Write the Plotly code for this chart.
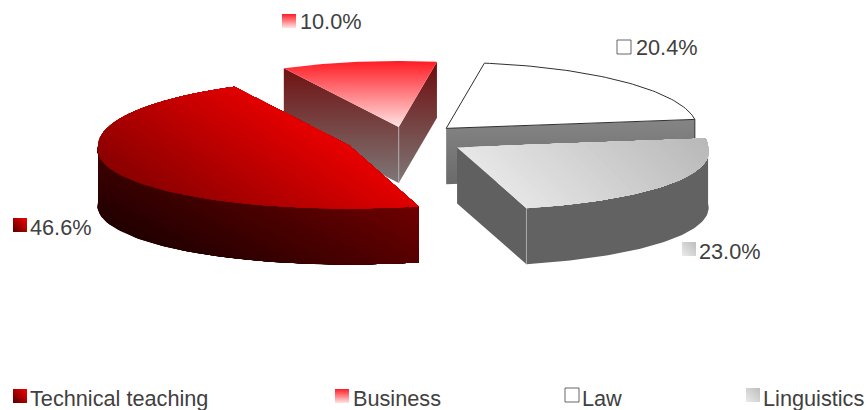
import math
import plotly.graph_objects as go

# Chart data
categories = ["Technical teaching", "Business", "Law", "Linguistics"]
shares = [46.6, 10.0, 20.4, 23.0]

# Label placement per category: (swatch left, swatch top, text left, text centre y)
value_label_pos = {
    "Technical teaching": (13, 218, 30, 227),
    "Business": (282, 14, 300, 21),
    "Law": (617, 40, 636, 47),
    "Linguistics": (682, 242, 699, 251),
}
legend_pos = {
    "Technical teaching": (13, 389, 30),
    "Business": (335, 389, 353),
    "Law": (565, 388, 582),
    "Linguistics": (746, 388, 763),
}

# Projected pie geometry, in pixels
CX, CY = 407, 140
RX = 251
RY_FAR, RY_NEAR = 66, 63
PERSPECTIVE = 0.07
DEPTH = 56
EXPLODE = 0.23
FIRST_ANGLE = 165  # clockwise from twelve o'clock
# Fine adjustment of each exploded slice
NUDGE = {
    "Technical teaching": (-4, 0),
    "Business": (1, 2),
    "Law": (-2, -1),
    "Linguistics": (2, -1),
}

TEXT = "#404040"
FONT = "Liberation Sans, Arial, sans-serif"


def hex_rgb(c):
    return tuple(int(c[i:i + 2], 16) for i in (1, 3, 5))


def mix(a, b, f):
    ra, rb = hex_rgb(a), hex_rgb(b)
    f = min(max(f, 0), 1)
    return "rgb(%d,%d,%d)" % tuple(round(p + (q - p) * f) for p, q in zip(ra, rb))


def clip(poly, d, t0):
    """Keep the part of a polygon where dot(p, d) >= t0."""
    out = []
    for i, p in enumerate(poly):
        q = poly[(i + 1) % len(poly)]
        tp = p[0] * d[0] + p[1] * d[1] - t0
        tq = q[0] * d[0] + q[1] * d[1] - t0
        if tp >= 0:
            out.append(p)
        if (tp >= 0) != (tq >= 0):
            f = tp / (tp - tq)
            out.append((p[0] + (q[0] - p[0]) * f, p[1] + (q[1] - p[1]) * f))
    return out


fig = go.Figure()


def add_poly(poly, color, line=None, width=0):
    xs = [p[0] for p in poly] + [poly[0][0]]
    ys = [p[1] for p in poly] + [poly[0][1]]
    fig.add_trace(go.Scatter(
        x=xs, y=ys, mode="lines", fill="toself", fillcolor=color,
        line=dict(color=line or color, width=width),
        hoverinfo="skip", showlegend=False))


def add_vertical(poly, top, bottom, y0=None, y1=None):
    ys = [p[1] for p in poly]
    xs = [p[0] for p in poly]
    fig.add_trace(go.Scatter(
        x=xs + [xs[0]], y=ys + [ys[0]], mode="lines", fill="toself",
        fillgradient=dict(type="vertical",
                          colorscale=[[0, top], [1, bottom]],
                          start=min(ys) if y0 is None else y0,
                          stop=max(ys) if y1 is None else y1),
        line=dict(width=0), hoverinfo="skip", showlegend=False))


def add_diagonal(poly, d, t_low, t_high, c_low, c_high, bands=36):
    """Paint a linear gradient along direction d as stacked clipped bands."""
    for i in range(bands):
        f = i / (bands - 1)
        t = t_low + (t_high - t_low) * f if i else -1e6
        part = clip(poly, d, t)
        if len(part) >= 3:
            add_poly(part, mix(c_low, c_high, f), width=0)


def add_edge(x, y0, y1, color):
    fig.add_trace(go.Scatter(x=[x, x], y=[y0, y1], mode="lines",
                             line=dict(color=color, width=1),
                             hoverinfo="skip", showlegend=False))


def rim_point(cx, cy, angle):
    a = math.radians(angle)
    s, k = math.sin(a), math.cos(a)
    # The near half of the disc is drawn slightly wider and flatter
    if k < 0:
        return (cx + RX * s * (1 - PERSPECTIVE * k), cy - RY_NEAR * k)
    return (cx + RX * s, cy - RY_FAR * k)


def rim(cx, cy, a0, a1, dy=0, n=60):
    pts = []
    for i in range(n + 1):
        x, y = rim_point(cx, cy, a0 + (a1 - a0) * i / n)
        pts.append((x, y + dy))
    return pts


# Sweep of each slice from the shares, with starts kept inside one turn
sweep = {}
start = FIRST_ANGLE
for name, share in zip(categories, shares):
    start %= 360
    end = start + share * 3.6
    sweep[name] = (start, end)
    start = end


def centre(name):
    a0, a1 = sweep[name]
    mid = math.radians((a0 + a1) / 2)
    nx, ny = NUDGE[name]
    return (CX + EXPLODE * RX * math.sin(mid) + nx,
            CY - EXPLODE * RY_FAR * math.cos(mid) + ny)


def cut_face(c, angle):
    edge = rim_point(c[0], c[1], angle)
    return [c, edge, (edge[0], edge[1] + DEPTH), (c[0], c[1] + DEPTH)]


def outer_wall(c, a0, a1):
    # Only the near half of the rim shows a wall
    low = max(a0, 90)
    high = min(a1, 270)
    return rim(c[0], c[1], low, high) + rim(c[0], c[1], high, low, DEPTH)


# Slices are drawn back to front
# Law
c = centre("Law")
a0, a1 = sweep["Law"]
add_vertical(cut_face(c, a1), "#858585", "#6a6a6a")
add_poly([c] + rim(c[0], c[1], a0, a1), "#ffffff", line="#303030", width=1)
edge = rim_point(c[0], c[1], a1)
add_edge(edge[0], edge[1], edge[1] + 25, "#303030")

# Business
c = centre("Business")
a0, a1 = sweep["Business"]
add_vertical(cut_face(c, a0), "#6e0c0c", "#7e7676", 62, 182)
add_vertical(cut_face(c, a1), "#6e0c0c", "#7e7676", 62, 182)
add_edge(c[0], c[1], c[1] + DEPTH, "#b0a8a8")
add_vertical([c] + rim(c[0], c[1], a0, a1), "#ff1c24", "#ffe4e4")

# Technical teaching
c = centre("Technical teaching")
a0, a1 = sweep["Technical teaching"]
add_diagonal(outer_wall(c, a0, a1), (0.45, -0.89), -155, 3, "#200000", "#700000")
add_diagonal([c] + rim(c[0], c[1], a0, a1), (0.55, -0.84), -80, 70, "#8c0000", "#ea0000")

# Linguistics
c = centre("Linguistics")
a0, a1 = sweep["Linguistics"]
add_poly(cut_face(c, a1), "#606060")
add_poly(outer_wall(c, a0, a1), "#626262")
corner = rim_point(c[0], c[1], a1)
add_edge(corner[0], corner[1], corner[1] + DEPTH, "#a8a8a8")
add_diagonal([c] + rim(c[0], c[1], a0, a1), (0.7, -0.7), 217, 395, "#e6e6e6", "#b8b8b8")


def swatch(name, x, y):
    size = 14
    sq = [(x, y), (x + size, y), (x + size, y + size), (x, y + size)]
    t0 = x * 0.7 - (y + size) * 0.7
    if name == "Technical teaching":
        add_diagonal(sq, (0.7, -0.7), t0, t0 + size * 1.4, "#600000", "#ff0000", bands=10)
    elif name == "Business":
        add_vertical(sq, "#ff1c24", "#ffe4e4")
    elif name == "Law":
        add_poly(sq, "#ffffff", line="#404040", width=0.8)
    else:
        add_diagonal(sq, (0.7, -0.7), t0, t0 + size * 1.4, "#e8e8e8", "#bbbbbb", bands=10)


annotations = []


def text_at(x, y, s):
    annotations.append(dict(x=x, y=y, text=s, xref="x", yref="y", showarrow=False,
                            xanchor="left", yanchor="middle", xshift=-2,
                            font=dict(family=FONT, size=21.7, color=TEXT)))


for name, share in zip(categories, shares):
    sx, sy, tx, ty = value_label_pos[name]
    swatch(name, sx, sy)
    text_at(tx, ty, f"{share:.1f}%")
    sx, sy, tx = legend_pos[name]
    swatch(name, sx, sy)
    text_at(tx, 398, name)

fig.update_layout(
    width=867, height=410,
    margin=dict(l=0, r=0, t=0, b=0),
    paper_bgcolor="#ffffff", plot_bgcolor="#ffffff",
    xaxis=dict(range=[0, 867], visible=False, fixedrange=True),
    yaxis=dict(range=[410, 0], visible=False, fixedrange=True),
    annotations=annotations,
    showlegend=False,
)

fig.write_html("out.html", config=dict(displayModeBar=False))
